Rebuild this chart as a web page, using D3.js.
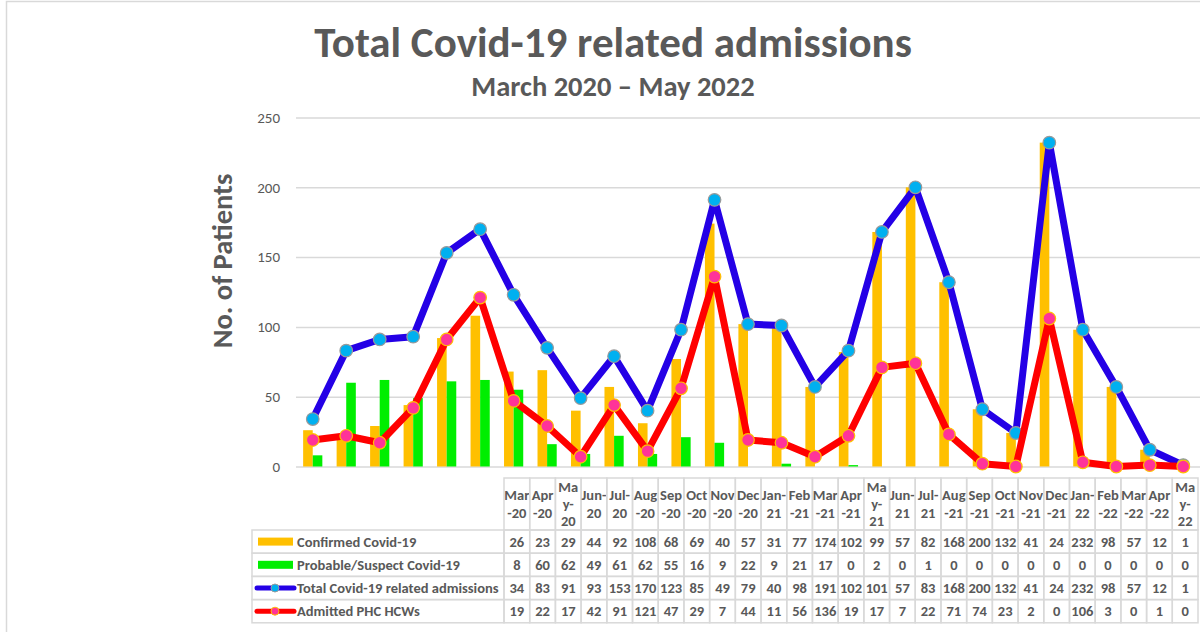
<!DOCTYPE html>
<html>
<head>
<meta charset="utf-8">
<script src="https://cdn.jsdelivr.net/npm/d3@7"></script>
<style>
	body { margin: 0; background: #ffffff; }
	svg { display: block; font-family: Carlito, Lato, "Open Sans", sans-serif; }
</style>
</head>
<body>
<div id="chart"></div>
<script>
// Categories (one per month)
const months = ["Mar-20", "Apr-20", "May-20", "Jun-20", "Jul-20", "Aug-20", "Sep-20", "Oct-20", "Nov-20",
				"Dec-20", "Jan-21", "Feb-21", "Mar-21", "Apr-21", "May-21", "Jun-21", "Jul-21", "Aug-21",
				"Sep-21", "Oct-21", "Nov-21", "Dec-21", "Jan-22", "Feb-22", "Mar-22", "Apr-22", "May-22"];

// Series values
const confirmed = [26, 23, 29, 44, 92, 108, 68, 69, 40, 57, 31, 77, 174, 102, 99, 57, 82, 168, 200, 132, 41, 24, 232, 98, 57, 12, 1];
const probable = [8, 60, 62, 49, 61, 62, 55, 16, 9, 22, 9, 21, 17, 0, 2, 0, 1, 0, 0, 0, 0, 0, 0, 0, 0, 0, 0];
const totalAdmissions = [34, 83, 91, 93, 153, 170, 123, 85, 49, 79, 40, 98, 191, 102, 101, 57, 83, 168, 200, 132, 41, 24, 232, 98, 57, 12, 1];
const admittedHCWs = [19, 22, 17, 42, 91, 121, 47, 29, 7, 44, 11, 56, 136, 19, 17, 7, 22, 71, 74, 23, 2, 0, 106, 3, 0, 1, 0];

const seriesNames = ["Confirmed Covid-19", "Probable/Suspect Covid-19", "Total Covid-19 related admissions", "Admitted PHC HCWs"];
const yTicks = [0, 50, 100, 150, 200, 250];

const grey = "#595959";
const gridColour = "#d9d9d9";
const colours = { orange: "#ffc000", green: "#00ee00", blue: "#2400e6", red: "#ff0000",
				  blueDot: "#00b0f0", pinkDot: "#ff3399" };

const width = 1204, height = 632;

const svg = d3.select("#chart").append("svg")
			.attr("width", width)
			.attr("height", height);

// Light frame around the chart area
svg.append("path")
	.attr("d", `M6.5,${height} V1.5 H1200`)
	.attr("fill", "none")
	.attr("stroke", gridColour)
	.attr("stroke-width", 1.5);

// Title and subtitle
svg.append("text")
	.attr("x", 613).attr("y", 57)
	.attr("text-anchor", "middle")
	.attr("font-size", 43).attr("font-weight", "bold")
	.attr("fill", grey)
	.text("Total Covid-19 related admissions");

svg.append("text")
	.attr("x", 613).attr("y", 96)
	.attr("text-anchor", "middle")
	.attr("font-size", 28.5).attr("font-weight", "bold")
	.attr("fill", grey)
	.text("March 2020 \u2013 May 2022");

// Scales
const x = d3.scaleBand().domain(months).range([296, 1200]);
const y = d3.scaleLinear().domain([0, 250]).range([466.5, 117.5]);
const barWidth = 9.6;

// Gridlines + tick labels
const yAxis = svg.append("g")
				.attr("transform", "translate(296,0)")
				.call(d3.axisLeft(y).tickValues(yTicks).tickSize(-(1200 - 296)).tickPadding(16));
yAxis.select(".domain").remove();
yAxis.selectAll(".tick line").attr("stroke", gridColour).attr("stroke-width", 1.5);
yAxis.selectAll(".tick text")
	.attr("fill", grey)
	.attr("font-size", 15)
	.attr("font-family", "Carlito, Lato, sans-serif");

svg.append("text")
	.attr("transform", "translate(232,261) rotate(-90)")
	.attr("text-anchor", "middle")
	.attr("font-size", 28.5).attr("font-weight", "bold")
	.attr("fill", grey)
	.text("No. of Patients");

// Bars: confirmed left of the month centre, probable right of it
const centre = (m) => x(m) + x.bandwidth() / 2;

svg.append("g").selectAll("rect")
	.data(months)
	.join("rect")
	.attr("x", (m) => centre(m) - barWidth)
	.attr("y", (m, i) => y(confirmed[i]))
	.attr("width", barWidth)
	.attr("height", (m, i) => y(0) - y(confirmed[i]))
	.attr("fill", colours.orange);

svg.append("g").selectAll("rect")
	.data(months)
	.join("rect")
	.attr("x", (m) => centre(m))
	.attr("y", (m, i) => y(probable[i]))
	.attr("width", barWidth)
	.attr("height", (m, i) => y(0) - y(probable[i]))
	.attr("fill", colours.green);

// Lines with markers
function drawLine(values, lineColour, dotColour, dotStroke) {
	const line = d3.line()
				.x((v, i) => centre(months[i]))
				.y((v) => y(v));
	const g = svg.append("g");
	g.append("path")
		.attr("d", line(values))
		.attr("fill", "none")
		.attr("stroke", lineColour)
		.attr("stroke-width", 7)
		.attr("stroke-linejoin", "round");
	g.selectAll("circle")
		.data(values)
		.join("circle")
		.attr("cx", (v, i) => centre(months[i]))
		.attr("cy", (v) => y(v))
		.attr("r", 6.3)
		.attr("fill", dotColour)
		.attr("stroke", dotStroke)
		.attr("stroke-width", 1.2);
}

drawLine(totalAdmissions, colours.blue, colours.blueDot, "#9a9a9a");
drawLine(admittedHCWs, colours.red, colours.pinkDot, colours.orange);

// ---- Data table under the chart ----
const tableLeft = 252, labelRight = 504, tableRight = 1198;
const headerTop = 478, headerBottom = 530, rowHeight = 23.2;
const colX = d3.scaleBand().domain(months).range([labelRight, tableRight]);
const rows = [confirmed, probable, totalAdmissions, admittedHCWs];

const table = svg.append("g")
				.attr("fill", grey)
				.attr("font-size", 14.5)
				.attr("font-weight", "bold");

// Excel-style wrapping of the month labels
function wrapMonth(label) {
	let [mon, yr] = label.split("-");
	if (mon == "May") return ["Ma", "y-", yr];
	if (mon == "Jun" || mon == "Jul" || mon == "Jan") return [mon + "-", yr];
	return [mon, "-" + yr];
}

const border = { stroke: gridColour, "stroke-width": 1.5, fill: "none" };
function addRect(x0, y0, w, h) {
	let r = table.append("rect").attr("x", x0).attr("y", y0).attr("width", w).attr("height", h);
	for (let k in border) r.attr(k, border[k]);
}

// Header cells
months.forEach((m) => {
	addRect(colX(m), headerTop, colX.bandwidth(), headerBottom - headerTop);
	let lines = wrapMonth(m);
	let lineHeight = 17.3;
	let first = (headerTop + headerBottom) / 2 - (lines.length - 1) * lineHeight / 2;
	lines.forEach((t, j) => {
		table.append("text")
			.attr("x", colX(m) + colX.bandwidth() / 2)
			.attr("y", first + j * lineHeight)
			.attr("dy", "0.35em")
			.attr("text-anchor", "middle")
			.text(t);
	});
});

// Body rows
rows.forEach((values, r) => {
	let top = headerBottom + r * rowHeight;
	let mid = top + rowHeight / 2;
	addRect(tableLeft, top, labelRight - tableLeft, rowHeight);
	months.forEach((m, i) => {
		addRect(colX(m), top, colX.bandwidth(), rowHeight);
		table.append("text")
			.attr("x", colX(m) + colX.bandwidth() / 2)
			.attr("y", mid)
			.attr("dy", "0.35em")
			.attr("text-anchor", "middle")
			.text(values[i]);
	});

	// Legend key
	if (r < 2) {
		table.append("rect")
			.attr("x", 258).attr("y", mid - 4)
			.attr("width", 35).attr("height", 8)
			.attr("fill", r == 0 ? colours.orange : colours.green);
	} else {
		let lc = r == 2 ? colours.blue : colours.red;
		table.append("line")
			.attr("x1", 257).attr("x2", 294)
			.attr("y1", mid).attr("y2", mid)
			.attr("stroke", lc).attr("stroke-width", 5)
			.attr("stroke-linecap", "round");
		table.append("circle")
			.attr("cx", 275).attr("cy", mid).attr("r", 4)
			.attr("fill", r == 2 ? colours.blueDot : colours.pinkDot)
			.attr("stroke", r == 2 ? "#9a9a9a" : colours.orange)
			.attr("stroke-width", 1);
	}
	table.append("text")
		.attr("x", 297)
		.attr("y", mid)
		.attr("dy", "0.35em")
		.text(seriesNames[r]);
});
</script>
</body>
</html>
